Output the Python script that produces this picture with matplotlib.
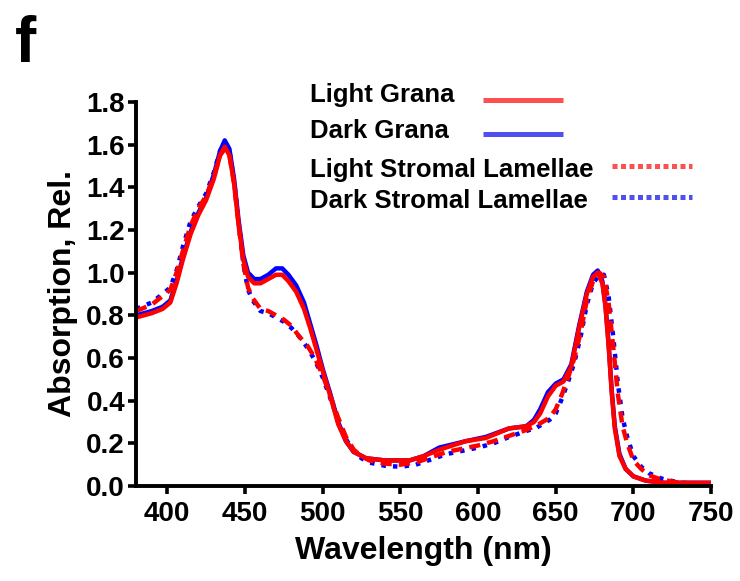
import matplotlib
matplotlib.use("Agg")
import matplotlib.pyplot as plt
from matplotlib.lines import Line2D

plt.rcParams['font.family'] = ['Liberation Sans', 'DejaVu Sans']
plt.rcParams['font.weight'] = 'bold'

# Light grana (solid red)
wl_lg = [380, 390, 397, 402, 406, 410, 415, 420, 425, 430, 434, 437, 440, 443, 446, 449,
         452, 456, 460, 465, 470, 474, 478, 483, 488, 492, 496, 500, 505, 510, 515, 520,
         528, 540, 556, 565, 575, 592, 605, 620, 631, 636, 640, 645, 650, 655, 660, 665,
         670, 674, 677, 680, 682, 684, 686, 688, 691, 695, 700, 708, 720, 750]
abs_lg = [0.79, 0.81, 0.83, 0.86, 0.95, 1.06, 1.18, 1.27, 1.34, 1.44, 1.55, 1.59, 1.55, 1.42, 1.22, 1.06,
          0.98, 0.95, 0.95, 0.97, 0.99, 0.99, 0.96, 0.91, 0.83, 0.74, 0.64, 0.54, 0.42, 0.29, 0.21, 0.16,
          0.13, 0.12, 0.12, 0.14, 0.17, 0.21, 0.225, 0.27, 0.28, 0.30, 0.34, 0.42, 0.47, 0.49, 0.56, 0.74,
          0.90, 0.98, 1.00, 0.95, 0.84, 0.66, 0.44, 0.27, 0.14, 0.08, 0.045, 0.025, 0.015, 0.015]

# Dark grana (solid blue)
wl_dg = wl_lg
abs_dg = [0.80, 0.82, 0.84, 0.87, 0.96, 1.07, 1.19, 1.28, 1.35, 1.46, 1.57, 1.62, 1.58, 1.44, 1.24, 1.08,
          1.00, 0.97, 0.97, 0.99, 1.02, 1.02, 0.99, 0.94, 0.86, 0.76, 0.66, 0.55, 0.43, 0.30, 0.21, 0.16,
          0.13, 0.12, 0.12, 0.14, 0.18, 0.21, 0.23, 0.27, 0.28, 0.31, 0.36, 0.44, 0.48, 0.50, 0.57, 0.75,
          0.91, 0.99, 1.01, 0.96, 0.85, 0.67, 0.45, 0.28, 0.15, 0.08, 0.045, 0.025, 0.015, 0.015]

# Light stromal lamellae (dashed red)
wl_ls = [380, 390, 397, 402, 406, 410, 415, 420, 425, 430, 434, 437, 440, 443, 446, 449,
         452, 455, 460, 465, 470, 475, 480, 485, 490, 495, 500, 505, 510, 515, 520, 525,
         530, 540, 550, 560, 570, 580, 590, 600, 610, 620, 630, 638, 646, 650, 654, 658,
         662, 666, 670, 674, 678, 681, 684, 687, 690, 693, 696, 700, 705, 710, 718, 730, 750]
abs_ls = [0.82, 0.85, 0.89, 0.92, 1.00, 1.10, 1.22, 1.30, 1.36, 1.45, 1.55, 1.58, 1.55, 1.42, 1.22, 1.04,
          0.93, 0.88, 0.83, 0.82, 0.80, 0.78, 0.75, 0.70, 0.66, 0.60, 0.52, 0.42, 0.32, 0.23, 0.17, 0.14,
          0.12, 0.105, 0.10, 0.11, 0.135, 0.16, 0.175, 0.19, 0.21, 0.235, 0.26, 0.285, 0.32, 0.36, 0.43, 0.51,
          0.60, 0.72, 0.87, 0.96, 1.00, 0.98, 0.86, 0.65, 0.43, 0.28, 0.20, 0.12, 0.08, 0.05, 0.03, 0.015, 0.01]

# Dark stromal lamellae (dashed blue)
wl_ds = wl_ls
abs_ds = [0.83, 0.86, 0.90, 0.93, 1.01, 1.12, 1.24, 1.31, 1.37, 1.47, 1.57, 1.61, 1.57, 1.43, 1.23, 1.04,
          0.92, 0.87, 0.82, 0.81, 0.79, 0.77, 0.74, 0.70, 0.65, 0.59, 0.51, 0.41, 0.31, 0.22, 0.16, 0.13,
          0.11, 0.095, 0.09, 0.10, 0.125, 0.15, 0.165, 0.18, 0.20, 0.23, 0.255, 0.275, 0.31, 0.34, 0.41, 0.49,
          0.58, 0.70, 0.85, 0.95, 0.99, 0.99, 0.89, 0.70, 0.48, 0.32, 0.23, 0.14, 0.09, 0.06, 0.035, 0.015, 0.01]

labels = ["Light Grana", "Dark Grana", "Light Stromal Lamellae", "Dark Stromal Lamellae"]
xticks = [400, 450, 500, 550, 600, 650, 700, 750]
yticks = [0.0, 0.2, 0.4, 0.6, 0.8, 1.0, 1.2, 1.4, 1.6, 1.8]

fig = plt.figure(figsize=(7.4, 5.81), dpi=100)
ax = fig.add_axes([0.184, 0.1635, 0.777, 0.661])

ax.plot(wl_ds, abs_ds, color='#0000ff', lw=3.2, ls=(0, (1, 1.6)))
ax.plot(wl_dg, abs_dg, color='#0000ff', lw=3.2)
ax.plot(wl_ls, abs_ls, color='#ff0000', lw=3.2, ls=(0, (2.5, 1.6)))
ax.plot(wl_lg, abs_lg, color='#ff0000', lw=3.2)

ax.set_xlim(380, 750)
ax.set_ylim(0, 1.8)
ax.set_xticks(xticks)
ax.set_yticks(yticks)
ax.set_yticklabels([f"{v:.1f}" for v in yticks])
ax.tick_params(labelsize=20, width=2.6, length=6)
ax.tick_params(axis='y', pad=2)
ax.tick_params(axis='x', pad=5)
for s in ['top', 'right']:
    ax.spines[s].set_visible(False)
for s in ['left', 'bottom']:
    ax.spines[s].set_linewidth(2.8)

ax.set_xlabel("Wavelength (nm)", fontsize=23, fontweight='bold', labelpad=6)
ax.set_ylabel("Absorption, Rel.", fontsize=23, fontweight='bold', labelpad=6)

# legend drawn GraphPad-style: text left, sample line right
W, H = 740, 581
leg = [(labels[0], 102, 100, 483, 563, '#ff5050', '-'),
       (labels[1], 138, 134, 483, 563, '#5050f0', '-'),
       (labels[2], 177, 166, 612, 692, '#ff5050', (0, (1, 0.7))),
       (labels[3], 208, 197, 612, 692, '#5050f0', (0, (1, 0.7)))]
for txt, yb, yl, x0, x1, c, ls in leg:
    fig.text(310 / W, 1 - yb / H, txt, fontsize=18.5, fontweight='bold', va='baseline', ha='left')
    fig.add_artist(Line2D([x0 / W, x1 / W], [1 - yl / H] * 2, color=c, lw=3.6, ls=ls,
                          solid_capstyle='butt', dash_capstyle='butt', transform=fig.transFigure))

fig.text(15 / W, 1 - 62 / H, "f", fontsize=46, fontweight='bold', va='baseline', ha='left')

fig.savefig("out.png", dpi=100)
